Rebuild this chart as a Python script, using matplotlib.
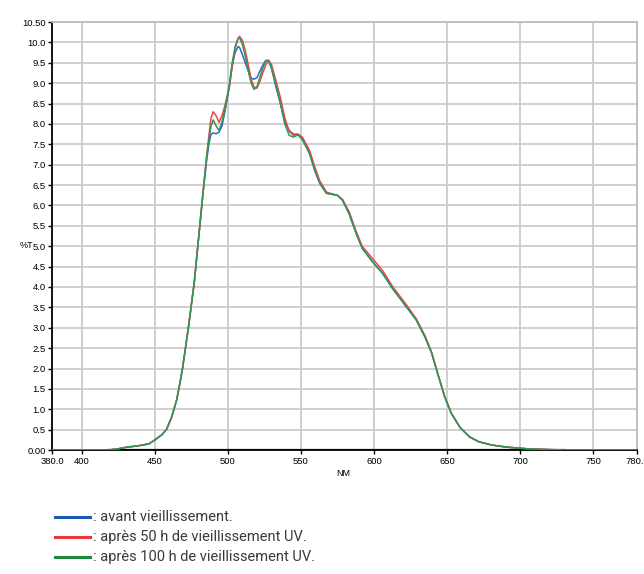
import matplotlib
matplotlib.use("Agg")
import matplotlib.pyplot as plt
from matplotlib.lines import Line2D

# wavelength (nm) and %T
nm = [380, 418, 425, 431, 438, 446, 451, 455, 458, 461.5, 465, 467, 469, 471, 473,
      475, 477, 480, 483, 485.5, 487, 488.5, 490, 492, 494, 496, 498, 501, 503, 505,
      507, 508, 510, 512, 514, 516, 518, 520, 522, 524, 526, 528, 530, 533, 536, 539,
      542, 545, 548, 551, 556, 559.5, 563, 567.5, 572, 575, 578.5, 583, 588, 592, 599,
      606, 613, 622.5, 629, 635, 639.5, 643.5, 648.5, 653, 659, 665.5, 672, 681, 691,
      705, 720, 731, 780]

avant = [0, 0, 0.03, 0.07, 0.1, 0.15, 0.27, 0.38, 0.5, 0.8, 1.23, 1.6, 2.0, 2.5, 3.0,
         3.55, 4.1, 5.2, 6.3, 7.1, 7.5, 7.75, 7.78, 7.76, 7.8, 7.95, 8.3, 8.9, 9.45, 9.75,
         9.9, 9.88, 9.7, 9.5, 9.3, 9.12, 9.1, 9.14, 9.3, 9.45, 9.56, 9.56, 9.35, 8.9, 8.5, 8.05,
         7.84, 7.75, 7.75, 7.64, 7.27, 6.86, 6.54, 6.3, 6.27, 6.25, 6.13, 5.8, 5.3, 4.95, 4.62,
         4.33, 3.95, 3.5, 3.19, 2.77, 2.38, 1.89, 1.3, 0.9, 0.55, 0.32, 0.2, 0.12, 0.07,
         0.03, 0.01, 0, 0]

uv50 = [0, 0, 0.03, 0.07, 0.1, 0.15, 0.27, 0.38, 0.5, 0.8, 1.23, 1.6, 2.0, 2.5, 3.0,
        3.55, 4.1, 5.2, 6.3, 7.2, 7.7, 8.15, 8.3, 8.2, 8.04, 8.2, 8.45, 8.9, 9.4, 9.85,
        10.1, 10.15, 10.05, 9.8, 9.45, 9.1, 8.9, 8.88, 9.05, 9.26, 9.45, 9.56, 9.45, 9.05, 8.65, 8.15,
        7.82, 7.72, 7.75, 7.68, 7.35, 6.95, 6.6, 6.33, 6.28, 6.25, 6.15, 5.85, 5.35, 5.0, 4.7,
        4.4, 4.0, 3.55, 3.22, 2.8, 2.4, 1.9, 1.3, 0.9, 0.55, 0.32, 0.2, 0.12, 0.07,
        0.03, 0.01, 0, 0]

uv100 = [0, 0, 0.03, 0.07, 0.1, 0.15, 0.27, 0.38, 0.5, 0.8, 1.23, 1.6, 2.0, 2.5, 3.0,
         3.55, 4.1, 5.2, 6.3, 7.2, 7.6, 7.95, 8.1, 7.95, 7.84, 8.05, 8.35, 8.95, 9.5, 9.9,
         10.1, 10.12, 9.95, 9.65, 9.3, 9.0, 8.85, 8.92, 9.15, 9.38, 9.55, 9.55, 9.35, 8.95, 8.5, 8.0,
         7.72, 7.68, 7.73, 7.62, 7.27, 6.86, 6.54, 6.3, 6.27, 6.25, 6.13, 5.8, 5.3, 4.95, 4.62,
         4.33, 3.95, 3.5, 3.19, 2.77, 2.38, 1.89, 1.3, 0.9, 0.55, 0.32, 0.2, 0.12, 0.07,
         0.03, 0.01, 0, 0]

x_ticks = [380, 400, 450, 500, 550, 600, 650, 700, 750, 780]
x_labels = ["380.0", "400", "450", "500", "550", "600", "650", "700", "750", "780.0"]
y_ticks = [i * 0.5 for i in range(22)]
y_labels = ["0.00"] + ["%.1f" % v for v in y_ticks[1:-1]] + ["10.50"]

legend_labels = [": avant vieillissement.",
                 ": après 50 h de vieillissement UV.",
                 ": après 100 h de vieillissement UV."]
legend_colors = ["#1f57b5", "#e8363a", "#1e8a3f"]
curve_colors = ["#3a5fd0", "#f04545", "#2a9a55"]

fig = plt.figure(figsize=(6.44, 5.74), dpi=100)
ax = fig.add_axes([0.0815, 0.216, 0.9075, 0.7455])

ax.set_xlim(380, 780)
ax.set_ylim(0, 10.5)

for xv in x_ticks[1:-1]:
    ax.axvline(xv, color="#cccccc", lw=1.3, zorder=0)
for yv in y_ticks[1:-1]:
    ax.axhline(yv, color="#cccccc", lw=1.3, zorder=0)

# dark baseline of the measured range
ax.plot([418, 731], [0, 0], color="#222222", lw=1.6, zorder=1)

ax.plot(nm, avant, color=curve_colors[0], lw=1.1, zorder=2)
ax.plot(nm, uv50, color=curve_colors[1], lw=1.1, zorder=3)
ax.plot(nm, uv100, color=curve_colors[2], lw=1.1, zorder=4)

for side in ["top", "right"]:
    ax.spines[side].set_color("#bbbbbb")
    ax.spines[side].set_linewidth(1.3)
for side in ["left", "bottom"]:
    ax.spines[side].set_color("black")
    ax.spines[side].set_linewidth(1.3)

narrow = ["Liberation Sans Narrow", "Liberation Sans"]
tick_font = {"family": narrow, "size": 6.8}
ax.set_xticks(x_ticks)
ax.set_xticklabels(x_labels, fontdict=tick_font)
ax.set_yticks(y_ticks)
ax.set_yticklabels(y_labels, fontdict=tick_font)
ax.tick_params(direction="out", length=3, width=1, pad=2, colors="black")

fig.text(0.533, 0.175, "NM", ha="center", va="center", fontsize=6.5, family=narrow)
fig.text(26 / 644, 1 - 246 / 574, "%T", ha="center", va="center", fontsize=6.5, family=narrow)

# legend drawn below the plot
for i, (lab, col) in enumerate(zip(legend_labels, legend_colors)):
    y = 1 - (517 + i * 20) / 574
    fig.add_artist(Line2D([55 / 644, 90 / 644], [y, y], color=col, lw=2.2, transform=fig.transFigure))
    fig.text(93 / 644, y, lab, ha="left", va="center", fontsize=10.5,
             family="Roboto", color="#3a3a3a")

fig.savefig("out.png", dpi=100)
